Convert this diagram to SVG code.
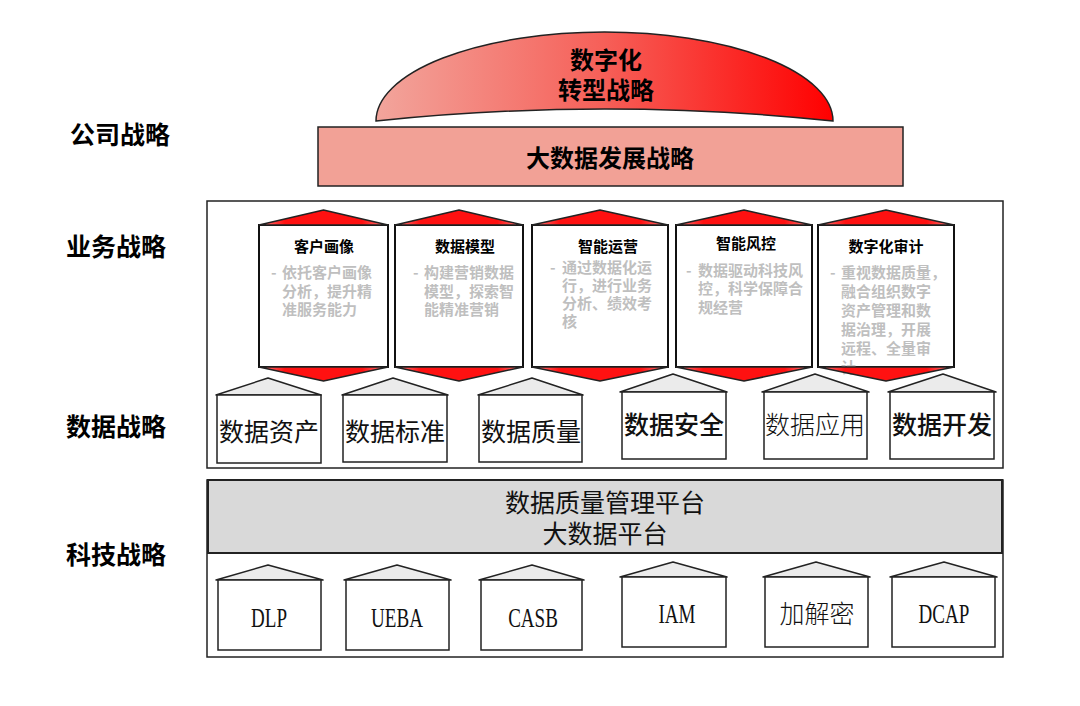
<svg xmlns="http://www.w3.org/2000/svg" width="1080" height="706" viewBox="0 0 1080 706">
<defs>
<linearGradient id="domeGrad" x1="0" y1="0" x2="1" y2="0">
<stop offset="0" stop-color="#F2A59C"/>
<stop offset="0.5" stop-color="#F65F58"/>
<stop offset="1" stop-color="#FF0000"/>
</linearGradient>
<linearGradient id="capGrad" x1="0" y1="0" x2="1" y2="0">
<stop offset="0" stop-color="#F88"/>
<stop offset="0.2" stop-color="#F11"/>
<stop offset="0.8" stop-color="#F11"/>
<stop offset="1" stop-color="#F88"/>
</linearGradient>
<style>
.cjk{font-family:"Noto Sans CJK SC","Liberation Sans",sans-serif;}
.lbl{font-size:25px;font-weight:bold;fill:#000;}
.big{font-size:24px;font-weight:bold;fill:#000;text-anchor:middle;}
.ttl{font-size:15px;font-weight:bold;fill:#000;text-anchor:middle;}
.dsc{font-size:15px;font-weight:bold;fill:#BFBFBF;}
.hs{font-size:25px;fill:#111;text-anchor:middle;}
.ser{font-family:"Liberation Serif",serif;font-size:28px;fill:#111;text-anchor:middle;}
.frame{fill:none;stroke:#222;stroke-width:1.5;}
.body{fill:#fff;stroke:#111;stroke-width:2;}
.cap{fill:url(#capGrad);stroke:#222;stroke-width:1.5;stroke-linejoin:round;}
.roof{fill:#EBEBEB;stroke:#222;stroke-width:1.5;stroke-linejoin:round;}
.hb{fill:#fff;stroke:#222;stroke-width:1.5;}
</style>
</defs>
<rect width="1080" height="706" fill="#fff"/>

<g id="left-labels" class="cjk">
<text class="lbl" x="70" y="144">公司战略</text>
<text class="lbl" x="66" y="256">业务战略</text>
<text class="lbl" x="66" y="436">数据战略</text>
<text class="lbl" x="66" y="564">科技战略</text>
</g>

<g id="dome">
<path d="M376,121 A228.5,89 0 0 1 833,121 Q605,97 376,121 Z" fill="url(#domeGrad)" stroke="#222" stroke-width="1.5"/>
<text class="cjk big" x="606" y="69">数字化</text>
<text class="cjk big" x="606" y="99">转型战略</text>
</g>

<g id="banner">
<rect x="318" y="127" width="585" height="59" fill="#F2A196" stroke="#222" stroke-width="1.5"/>
<text class="cjk big" x="610" y="167">大数据发展战略</text>
</g>

<g id="frames">
<rect class="frame" x="207" y="201" width="796" height="267"/>
<rect class="frame" x="207" y="480" width="796" height="177"/>
<rect x="208" y="480" width="794" height="73" fill="#D9D9D9" stroke="#222" stroke-width="2"/>
</g>

<g id="card1">
<rect class="body" x="259" y="225" width="129" height="142"/>
<text class="cjk ttl" x="324" y="252">客户画像</text>
<g class="cjk dsc">
<text x="271" y="278">-</text>
<text x="282" y="278">依托客户画像</text>
<text x="282" y="297">分析，提升精</text>
<text x="282" y="315">准服务能力</text>
</g>
<path class="cap" d="M259,225 L323.5,210 L388,225 Z"/>
<path class="cap" d="M259,367 L323.5,381 L388,367 Z"/>
</g>

<g id="card2">
<rect class="body" x="395" y="225" width="128" height="142"/>
<text class="cjk ttl" x="465" y="252">数据模型</text>
<g class="cjk dsc">
<text x="413" y="278">-</text>
<text x="424" y="278">构建营销数据</text>
<text x="424" y="297">模型，探索智</text>
<text x="424" y="315">能精准营销</text>
</g>
<path class="cap" d="M395,225 L459,210 L523,225 Z"/>
<path class="cap" d="M395,367 L459,381 L523,367 Z"/>
</g>

<g id="card3">
<rect class="body" x="532" y="225" width="136" height="142"/>
<text class="cjk ttl" x="608" y="252">智能运营</text>
<g class="cjk dsc">
<text x="550" y="273">-</text>
<text x="562" y="273">通过数据化运</text>
<text x="562" y="291">行，进行业务</text>
<text x="562" y="309">分析、绩效考</text>
<text x="562" y="327">核</text>
</g>
<path class="cap" d="M532,225 L600,210 L668,225 Z"/>
<path class="cap" d="M532,367 L600,381 L668,367 Z"/>
</g>

<g id="card4">
<rect class="body" x="676" y="225" width="136" height="142"/>
<text class="cjk ttl" x="746" y="249">智能风控</text>
<g class="cjk dsc">
<text x="686" y="276">-</text>
<text x="698" y="276">数据驱动科技风</text>
<text x="698" y="294">控，科学保障合</text>
<text x="698" y="313">规经营</text>
</g>
<path class="cap" d="M676,225 L744,210 L812,225 Z"/>
<path class="cap" d="M676,367 L744,381 L812,367 Z"/>
</g>

<g id="card5">
<rect class="body" x="818" y="225" width="136" height="142"/>
<text class="cjk ttl" x="886" y="252">数字化审计</text>
<g class="cjk dsc">
<text x="830" y="278">-</text>
<text x="841" y="278">重视数据质量，</text>
<text x="841" y="297">融合组织数字</text>
<text x="841" y="316">资产管理和数</text>
<text x="841" y="335">据治理，开展</text>
<text x="841" y="354">远程、全量审</text>
<text x="841" y="373">计</text>
</g>
<path class="cap" d="M818,225 L886,210 L954,225 Z"/>
<path class="cap" d="M818,367 L886,381 L954,367 Z"/>
</g>

<g id="data-asset">
<path class="roof" d="M216,395 L268,378 L321,395 Z"/>
<rect class="hb" x="217" y="395" width="104" height="68"/>
<text class="cjk hs" x="269" y="441">数据资产</text>
</g>
<g id="data-standard">
<path class="roof" d="M342,395 L393,378 L448,395 Z"/>
<rect class="hb" x="343" y="395" width="104" height="67"/>
<text class="cjk hs" x="395" y="441">数据标准</text>
</g>
<g id="data-quality">
<path class="roof" d="M478,395 L532,378 L583,395 Z"/>
<rect class="hb" x="479" y="395" width="103" height="67"/>
<text class="cjk hs" x="531" y="441">数据质量</text>
</g>
<g id="data-security">
<path class="roof" d="M620,392 L673,374 L727,392 Z"/>
<rect class="hb" x="622" y="392" width="104" height="67"/>
<text class="cjk hs" x="674" y="434" font-weight="500">数据安全</text>
</g>
<g id="data-app">
<path class="roof" d="M762,392 L815,374 L869,392 Z"/>
<rect class="hb" x="764" y="392" width="103" height="67"/>
<text class="cjk hs" x="815" y="434" font-weight="300" fill="#333">数据应用</text>
</g>
<g id="data-dev">
<path class="roof" d="M888,392 L943,374 L996,392 Z"/>
<rect class="hb" x="890" y="392" width="104" height="67"/>
<text class="cjk hs" x="942" y="434" font-weight="500">数据开发</text>
</g>

<g id="platform">
<text class="cjk hs" x="605" y="512" fill="#111">数据质量管理平台</text>
<text class="cjk hs" x="605" y="543" fill="#111">大数据平台</text>
</g>

<g id="dlp">
<path class="roof" d="M216,580 L268,565 L323,580 Z"/>
<rect class="hb" x="218" y="580" width="103" height="70"/>
<text class="ser" transform="translate(269,627) scale(0.68,1)">DLP</text>
</g>
<g id="ueba">
<path class="roof" d="M344,580 L397,565 L451,580 Z"/>
<rect class="hb" x="346" y="580" width="103" height="70"/>
<text class="ser" transform="translate(397,627) scale(0.68,1)">UEBA</text>
</g>
<g id="casb">
<path class="roof" d="M479,580 L532,565 L584,580 Z"/>
<rect class="hb" x="481" y="580" width="101" height="70"/>
<text class="ser" transform="translate(533,627) scale(0.68,1)">CASB</text>
</g>
<g id="iam">
<path class="roof" d="M620,577 L673,562 L727,577 Z"/>
<rect class="hb" x="622" y="577" width="104" height="70"/>
<text class="ser" transform="translate(677,623) scale(0.68,1)">IAM</text>
</g>
<g id="crypto">
<path class="roof" d="M763,577 L816,562 L870,577 Z"/>
<rect class="hb" x="765" y="577" width="103" height="70"/>
<text class="cjk hs" x="817" y="623" font-weight="300" fill="#222">加解密</text>
</g>
<g id="dcap">
<path class="roof" d="M890,577 L944,562 L997,577 Z"/>
<rect class="hb" x="892" y="577" width="103" height="70"/>
<text class="ser" transform="translate(944,623) scale(0.68,1)">DCAP</text>
</g>

<g id="connectors"></g>
</svg>
